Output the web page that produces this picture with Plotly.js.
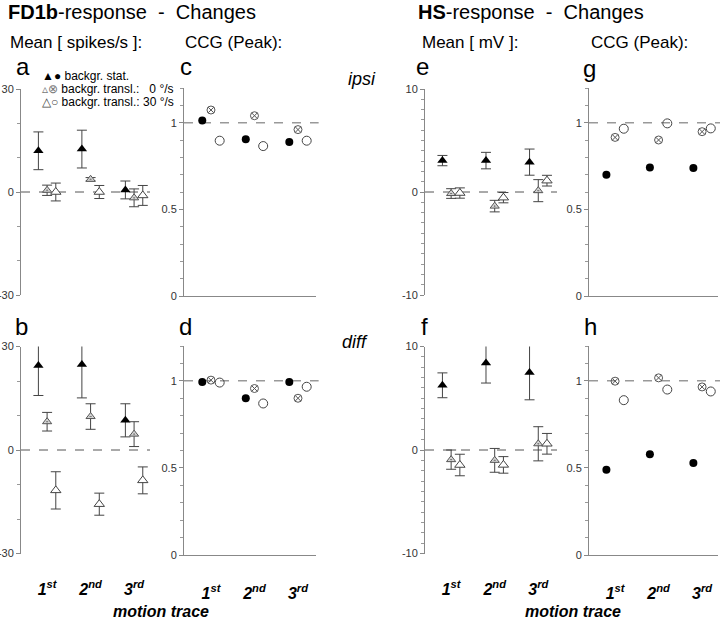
<!DOCTYPE html>
<html>
<head>
<meta charset="utf-8">
<script src="https://cdn.plot.ly/plotly-3.0.1.min.js"></script>
<style>html,body{margin:0;padding:0;background:#fff}#chart{width:720px;height:622px}</style>
</head>
<body>
<div id="chart"></div>
<script>
// ---------- data ----------
const cats = [1, 2, 3];
const tickLabels = ['1<sup>st</sup>', '2<sup>nd</sup>', '3<sup>rd</sup>'];
const fdTicks = [-30, 0, 30];      const fdTickText = ['-30', '0', '30'];
const hsTicks = [-10, 0, 10];      const hsTickText = ['-10', '0', '10'];
const ccgTicks = [0, 0.5, 1];      const ccgTickText = ['0', '0.5', '1'];

// FD1b mean (spikes/s) - ipsi (a)
const a_stat = [12.0, 12.5, 0.6];   const a_stat_err = [5.5, 5.5, 2.6];
const a_t0   = [0.5, 3.7, -1.7];    const a_t0_err   = [1.5, 0.5, 2.6];
const a_t30  = [0.0, 0.0, -1.0];    const a_t30_err  = [2.6, 1.9, 2.9];
// FD1b mean - diff (b)
const b_stat = [24.5, 24.8, 8.6];   const b_stat_err = [8.7, 9.7, 4.8];
const b_t0   = [8.2, 9.7, 4.6];     const b_t0_err   = [2.7, 3.7, 3.6];
const b_t30  = [-11.7, -15.7, -8.8];const b_t30_err  = [5.4, 3.2, 3.9];
// HS mean (mV) - ipsi (e)
const e_stat = [3.05, 3.05, 2.9];   const e_stat_err = [0.5, 0.8, 1.27];
const e_t0   = [-0.15, -1.37, 0.13];const e_t0_err   = [0.47, 0.56, 1.07];
const e_t30  = [-0.1, -0.55, 1.1];  const e_t30_err  = [0.5, 0.5, 0.52];
// HS mean - diff (f)
const f_stat = [6.25, 8.4, 7.5];    const f_stat_err = [1.2, 1.93, 2.65];
const f_t0   = [-0.93, -1.0, 0.6];  const f_t0_err   = [0.93, 1.15, 1.65];
const f_t30  = [-1.45, -1.44, 0.6]; const f_t30_err  = [1.04, 0.8, 1.0];
// CCG peak FD1b ipsi (c), diff (d)
const c_stat = [1.012, 0.904, 0.888]; const c_t0 = [1.073, 1.04, 0.96]; const c_t30 = [0.896, 0.865, 0.896];
const d_stat = [0.994, 0.90, 0.994];  const d_t0 = [1.004, 0.956, 0.90]; const d_t30 = [0.99, 0.87, 0.966];
// CCG peak HS ipsi (g), diff (h)
const g_stat = [0.70, 0.742, 0.738];  const g_t0 = [0.915, 0.90, 0.948]; const g_t30 = [0.965, 0.996, 0.967];
const h_stat = [0.49, 0.578, 0.528];  const h_t0 = [0.998, 1.017, 0.965]; const h_t30 = [0.889, 0.95, 0.939];

// ---------- helpers ----------
const W = 720, H = 622;
const px = v => v / W;
const py = v => (H - v) / H;
const shift = d => cats.map(c => c + d);
const FONT = 'Arial, "Liberation Sans", sans-serif';

const markStat = {symbol: 'triangle-up', size: 9, color: '#000'};
const markT0 = {symbol: 'triangle-up-dot', size: 8, color: '#d4d4d4', line: {color: '#555', width: 1}};
const markT30 = {symbol: 'triangle-up', size: 9, color: '#fff', line: {color: '#444', width: 1}};
const circStat = {symbol: 'circle', size: 8, color: '#000'};
const circT0 = {symbol: 'circle-x-open', size: 8, color: '#555', line: {width: 1}};
const circT30 = {symbol: 'circle-open', size: 9, color: '#444', line: {width: 1}};

function err(arr) {
  return {type: 'data', array: arr, visible: true, color: '#444', thickness: 1, width: 5};
}
function meanTraces(n, s, se, t0, t0e, t30, t30e) {
  const xa = 'x' + (n === 1 ? '' : n), ya = 'y' + (n === 1 ? '' : n);
  return [
    {x: shift(-0.2), y: s, error_y: err(se), mode: 'markers', marker: markStat, xaxis: xa, yaxis: ya, type: 'scatter', showlegend: false},
    {x: shift(0), y: t0, error_y: err(t0e), mode: 'markers', marker: markT0, xaxis: xa, yaxis: ya, type: 'scatter', showlegend: false},
    {x: shift(0.2), y: t30, error_y: err(t30e), mode: 'markers', marker: markT30, xaxis: xa, yaxis: ya, type: 'scatter', showlegend: false}
  ];
}
function ccgTraces(n, s, t0, t30) {
  const xa = 'x' + n, ya = 'y' + n;
  return [
    {x: shift(-0.2), y: s, mode: 'markers', marker: circStat, xaxis: xa, yaxis: ya, type: 'scatter', showlegend: false},
    {x: shift(0), y: t0, mode: 'markers', marker: circT0, xaxis: xa, yaxis: ya, type: 'scatter', showlegend: false},
    {x: shift(0.2), y: t30, mode: 'markers', marker: circT30, xaxis: xa, yaxis: ya, type: 'scatter', showlegend: false}
  ];
}

const data = [].concat(
  meanTraces(1, a_stat, a_stat_err, a_t0, a_t0_err, a_t30, a_t30_err),
  ccgTraces(2, c_stat, c_t0, c_t30),
  meanTraces(3, e_stat, e_stat_err, e_t0, e_t0_err, e_t30, e_t30_err),
  ccgTraces(4, g_stat, g_t0, g_t30),
  meanTraces(5, b_stat, b_stat_err, b_t0, b_t0_err, b_t30, b_t30_err),
  ccgTraces(6, d_stat, d_t0, d_t30),
  meanTraces(7, f_stat, f_stat_err, f_t0, f_t0_err, f_t30, f_t30_err),
  ccgTraces(8, h_stat, h_t0, h_t30)
);

// ---------- axes ----------
const xDom = {
  a: [px(21), px(150)], c: [px(184), px(316)], e: [px(425), px(557)], g: [px(589), px(718)]
};
const xRange = {
  a: [0.4, 3.366], c: [0.38, 3.414], e: [0.4, 3.43], g: [0.4, 3.366]
};
const yDomTopMean = [py(295), py(89)], yDomTopCcg = [py(296), py(88)];
const yDomBotMean = [py(553.5), py(346.5)], yDomBotCcg = [py(555), py(346)];

function xAxis(dom, rng, anchor, line, labels) {
  return {
    domain: dom, range: rng, anchor: anchor, showgrid: false, zeroline: false,
    showline: line, linecolor: '#888', linewidth: 1, ticks: '',
    tickvals: cats, ticktext: tickLabels, showticklabels: labels,
    ticklabelstandoff: 24,
    tickfont: {family: '"Liberation Sans Narrow", Arial, "Liberation Sans", sans-serif', size: 16, color: '#000', weight: 'bold', style: 'italic'},
    fixedrange: true
  };
}
function yAxis(dom, anchor, rng, vals, text, minor) {
  return {
    domain: dom, anchor: anchor, range: rng, tickvals: vals, ticktext: text, showgrid: false, zeroline: false,
    showline: true, linecolor: '#888', linewidth: 1, ticks: 'outside', ticklen: 4, tickcolor: '#888',
    tickfont: {family: FONT, size: 11, color: '#333'},
    minor: {dtick: minor, ticks: 'outside', ticklen: 3, tickcolor: '#999', showgrid: false},
    fixedrange: true
  };
}

const layout = {
  width: W, height: H, margin: {l: 0, r: 0, t: 0, b: 0},
  paper_bgcolor: '#fff', plot_bgcolor: 'rgba(0,0,0,0)',
  font: {family: FONT, color: '#000'},
  showlegend: false,
  xaxis:  xAxis(xDom.a, xRange.a, 'y', false, false),
  yaxis:  yAxis(yDomTopMean, 'x', [-30, 30], fdTicks, fdTickText, 10),
  xaxis2: xAxis(xDom.c, xRange.c, 'y2', true, false),
  yaxis2: yAxis(yDomTopCcg, 'x2', [0, 1.2], ccgTicks, ccgTickText, 0.1),
  xaxis3: xAxis(xDom.e, xRange.e, 'y3', false, false),
  yaxis3: yAxis(yDomTopMean, 'x3', [-10, 10], hsTicks, hsTickText, 1),
  xaxis4: xAxis(xDom.g, xRange.g, 'y4', true, false),
  yaxis4: yAxis(yDomTopCcg, 'x4', [0, 1.2], ccgTicks, ccgTickText, 0.1),
  xaxis5: xAxis(xDom.a, xRange.a, 'y5', false, true),
  yaxis5: yAxis(yDomBotMean, 'x5', [-30, 30], fdTicks, fdTickText, 10),
  xaxis6: xAxis(xDom.c, xRange.c, 'y6', true, true),
  yaxis6: yAxis(yDomBotCcg, 'x6', [0, 1.2], ccgTicks, ccgTickText, 0.1),
  xaxis7: xAxis(xDom.e, xRange.e, 'y7', false, true),
  yaxis7: yAxis(yDomBotMean, 'x7', [-10, 10], hsTicks, hsTickText, 1),
  xaxis8: xAxis(xDom.g, xRange.g, 'y8', true, true),
  yaxis8: yAxis(yDomBotCcg, 'x8', [0, 1.2], ccgTicks, ccgTickText, 0.1),
  shapes: [],
  annotations: []
};

// reference dashed lines
[['x', 'y'], ['x3', 'y3'], ['x5', 'y5'], ['x7', 'y7']].forEach(([xa, ya]) => {
  layout.shapes.push({type: 'line', layer: 'below', xref: xa + ' domain', x0: 0, x1: 1, yref: ya, y0: 0, y1: 0,
    line: {color: '#555', width: 1, dash: 'dash'}});
});
[['x2', 'y2'], ['x4', 'y4'], ['x6', 'y6'], ['x8', 'y8']].forEach(([xa, ya]) => {
  layout.shapes.push({type: 'line', layer: 'below', xref: xa + ' domain', x0: 0, x1: 1.02, yref: ya, y0: 1, y1: 1,
    line: {color: '#999', width: 1.5, dash: 'dash'}});
});

function ann(text, x, y, size, opts) {
  layout.annotations.push(Object.assign({
    text: text, xref: 'paper', yref: 'paper', x: px(x), y: py(y), xanchor: 'left', yanchor: 'middle',
    showarrow: false, font: {family: FONT, size: size, color: '#000'}
  }, opts || {}));
}
const sp = '\u00a0';
ann('<b>FD1b</b>-response' + sp + sp + '-' + sp + sp + 'Changes', 6, 12, 20);
ann('<b>HS</b>-response' + sp + sp + '-' + sp + sp + 'Changes', 416, 12, 20);
ann('Mean [ spikes/s ]:', 8, 43, 17);
ann('CCG (Peak):', 183, 43, 17);
ann('Mean [ mV ]:', 420, 43, 17);
ann('CCG (Peak):', 589, 43, 17);

ann('a', 14, 66, 24);
ann('c', 178, 66, 24);
ann('e', 414, 66, 24);
ann('g', 581, 68, 24);
ann('b', 13, 326, 24);
ann('d', 177, 326, 24);
ann('f', 419, 326, 24);
ann('h', 582, 326, 24);
ann('<i>ipsi</i>', 346, 79, 18);
ann('<i>diff</i>', 340, 342, 18);

// legend
ann('<span style="color:#000">▲●</span>' + sp + 'backgr. stat.', 40, 76, 12);
ann('<span style="color:#777">▵⊗</span>' + sp + 'backgr. transl.:' + sp + sp + sp + '0 °/s', 40, 89, 12);
ann('<span style="color:#444">△○</span>' + sp + 'backgr. transl.: 30 °/s', 40, 102, 12);

// x-axis titles
ann('<b><i>motion trace</i></b>', 161, 611, 16, {xanchor: 'center'});
ann('<b><i>motion trace</i></b>', 573, 611, 16, {xanchor: 'center'});

Plotly.newPlot('chart', data, layout, {staticPlot: true, displayModeBar: false});
</script>
</body>
</html>
